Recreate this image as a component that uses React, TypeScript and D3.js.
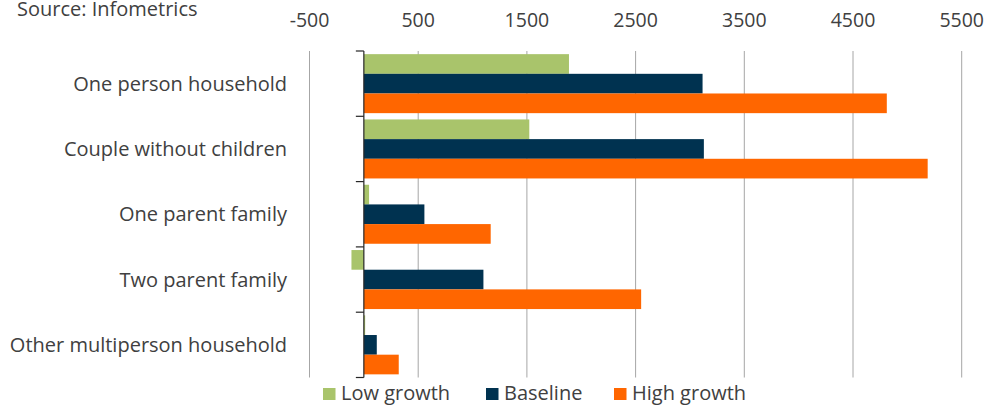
import React from "react";
import * as d3 from "d3";

const categories = [
  "One person household",
  "Couple without children",
  "One parent family",
  "Two parent family",
  "Other multiperson household",
];
const seriesNames = ["Low growth", "Baseline", "High growth"];
const lowGrowth = [1887, 1522, 48, -114, 12];
const baseline = [3116, 3128, 557, 1100, 119];
const highGrowth = [4811, 5187, 1167, 2551, 321];
const tickValues = [-500, 500, 1500, 2500, 3500, 4500, 5500];
const seriesColors = ["#A9C46B", "#003250", "#FF6600"];

const W = 986;
const H = 408;
const FONT = "'Open Sans', 'Noto Sans', sans-serif";
const TEXT = "#404040";

export default function App() {
  const series = [lowGrowth, baseline, highGrowth];
  const x = d3.scaleLinear().domain([-500, 5500]).range([309.5, 961.7]);
  const y = d3.scaleBand().domain(categories).range([51, 377.5]).paddingInner(0).paddingOuter(0);
  const inner = d3
    .scaleBand()
    .domain(seriesNames)
    .range([0, y.bandwidth()])
    .paddingOuter(0.16)
    .paddingInner(0);

  const legendItems = [
    { name: seriesNames[0], sx: 323, tx: 341 },
    { name: seriesNames[1], sx: 486, tx: 504 },
    { name: seriesNames[2], sx: 614, tx: 632 },
  ];

  return (
    <svg width={W} height={H} style={{ position: "absolute", left: 0, top: 0, display: "block" }}>
      <rect width={W} height={H} fill="#fff" />
      <text x={17} y={15.5} fontFamily={FONT} fontSize={20} fill={TEXT}>
        Source: Infometrics
      </text>
      {/* top value axis labels */}
      {tickValues.map((t) => (
        <text
          key={t}
          x={x(t)}
          y={26.7}
          textAnchor="middle"
          fontFamily={FONT}
          fontSize={19.5}
          fill={TEXT}
        >
          {t}
        </text>
      ))}
      {/* vertical gridlines */}
      {tickValues.map((t) => (
        <line key={"g" + t} x1={x(t)} x2={x(t)} y1={51} y2={377.5} stroke="#A6A6A6" strokeWidth={1} />
      ))}
      {/* bars */}
      {categories.map((c, ci) =>
        series.map((vals, si) => {
          const v = vals[ci];
          const x0 = x(Math.min(0, v));
          const x1 = x(Math.max(0, v));
          return (
            <rect
              key={c + si}
              x={x0}
              y={(y(c) as number) + (inner(seriesNames[si]) as number)}
              width={x1 - x0}
              height={inner.bandwidth()}
              fill={seriesColors[si]}
            />
          );
        })
      )}
      {/* category axis */}
      <line x1={x(0)} x2={x(0)} y1={51} y2={377.5} stroke="#262626" strokeWidth={1.2} />
      {categories.concat([""]).map((c, i) => {
        const yy = 51 + i * y.step();
        return <line key={"t" + i} x1={x(0) - 8} x2={x(0)} y1={yy} y2={yy} stroke="#262626" strokeWidth={1.2} />;
      })}
      {categories.map((c) => (
        <text
          key={"l" + c}
          x={287}
          y={(y(c) as number) + y.bandwidth() / 2}
          dy="0.35em"
          textAnchor="end"
          fontFamily={FONT}
          fontSize={20}
          fill={TEXT}
        >
          {c}
        </text>
      ))}
      {/* legend */}
      {legendItems.map((it, i) => (
        <g key={it.name}>
          <rect x={it.sx} y={388} width={12.5} height={12} fill={seriesColors[i]} />
          <text x={it.tx} y={400} fontFamily={FONT} fontSize={20} fill={TEXT}>
            {it.name}
          </text>
        </g>
      ))}
    </svg>
  );
}
